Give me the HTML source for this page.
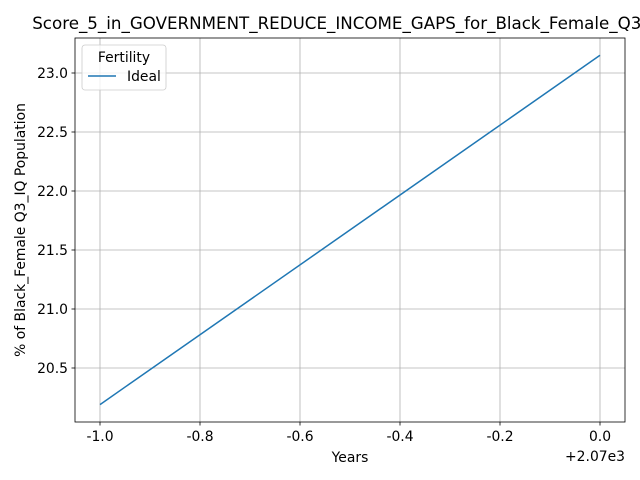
<!DOCTYPE html>
<html><head><meta charset="utf-8"><style>
body{margin:0;background:#fff}
svg{display:block;font-family:"DejaVu Sans","Liberation Sans",sans-serif}
</style></head><body>
<svg id="chart" width="640" height="480" xmlns="http://www.w3.org/2000/svg"></svg>
<script>
const years = [-1.0, 0.0];
const idealValues = [20.19, 23.15];
const xTicks = [-1.0, -0.8, -0.6, -0.4, -0.2, 0.0];
const xTickLabels = ["-1.0", "-0.8", "-0.6", "-0.4", "-0.2", "0.0"];
const yTicks = [20.5, 21.0, 21.5, 22.0, 22.5, 23.0];
const yTickLabels = ["20.5", "21.0", "21.5", "22.0", "22.5", "23.0"];

const L = 75, R = 625, T = 38, B = 422;
const xs = v => 100 + (v + 1.0) * 500;
const ys = v => 368 - (v - 20.5) * 118;
const svg = document.getElementById('chart');
const NS = 'http://www.w3.org/2000/svg';
function mk(tag, attrs, parent) {
  const e = document.createElementNS(NS, tag);
  for (const k in attrs) e.setAttribute(k, attrs[k]);
  (parent || svg).appendChild(e);
  return e;
}
mk('rect', {x:0, y:0, width:640, height:480, fill:'#fff'});
xTicks.forEach((t, i) => {
  const x = xs(t);
  const g = mk('line', {x1:x, x2:x, y1:T, y2:B, stroke:'#b0b0b0', 'stroke-width':0.8});
  
  
  mk('line', {x1:x, x2:x, y1:B, y2:B+3.5, stroke:'#000', 'stroke-width':0.8});
  const tx = mk('text', {x:x, y:B+19, 'font-size':13.9, 'text-anchor':'middle'});
  tx.textContent = xTickLabels[i];
  
  
});
yTicks.forEach((t, i) => {
  const y = ys(t);
  const g = mk('line', {x1:L, x2:R, y1:y, y2:y, stroke:'#b0b0b0', 'stroke-width':0.8});
  
  
  mk('line', {x1:L-3.5, x2:L, y1:y, y2:y, stroke:'#000', 'stroke-width':0.8});
  const tx = mk('text', {x:L-7, y:y+5, 'font-size':13.9, 'text-anchor':'end'});
  tx.textContent = yTickLabels[i];
  
  
});
const pts = years.map((yr, i) => xs(yr) + ',' + ys(idealValues[i])).join(' ');
const line = mk('polyline', {points:pts, fill:'none', stroke:'#1f77b4', 'stroke-width':1.5});


const fr = mk('rect', {x:L, y:T, width:R-L, height:B-T, fill:'none', stroke:'#000', 'stroke-width':0.8});


</script>
<svg style="position:absolute;left:0;top:0" width="640" height="480" xmlns="http://www.w3.org/2000/svg">
<text x="350" y="29" font-size="16.7" text-anchor="middle" fill="#000">Score_5_in_GOVERNMENT_REDUCE_INCOME_GAPS_for_Black_Female_Q3_IQ</text>
<text x="350" y="462" font-size="13.9" text-anchor="middle">Years</text>
<text x="625" y="461" font-size="13.9" text-anchor="end">+2.07e3</text>
<text x="25" y="230" font-size="13.9" text-anchor="middle" transform="rotate(-90 25 230)">% of Black_Female Q3_IQ Population</text>
<g>
<rect x="82" y="45" width="84" height="45" rx="3" fill="#fff" fill-opacity="0.8" stroke="#ccc" stroke-width="0.8"/>
<text x="124" y="62" font-size="13.9" text-anchor="middle">Fertility</text>
<line x1="88" x2="116" y1="76" y2="76" stroke="#1f77b4" stroke-width="1.5"/>
<text x="127" y="81" font-size="13.9">Ideal</text>
</g>
</svg>
</body></html>
